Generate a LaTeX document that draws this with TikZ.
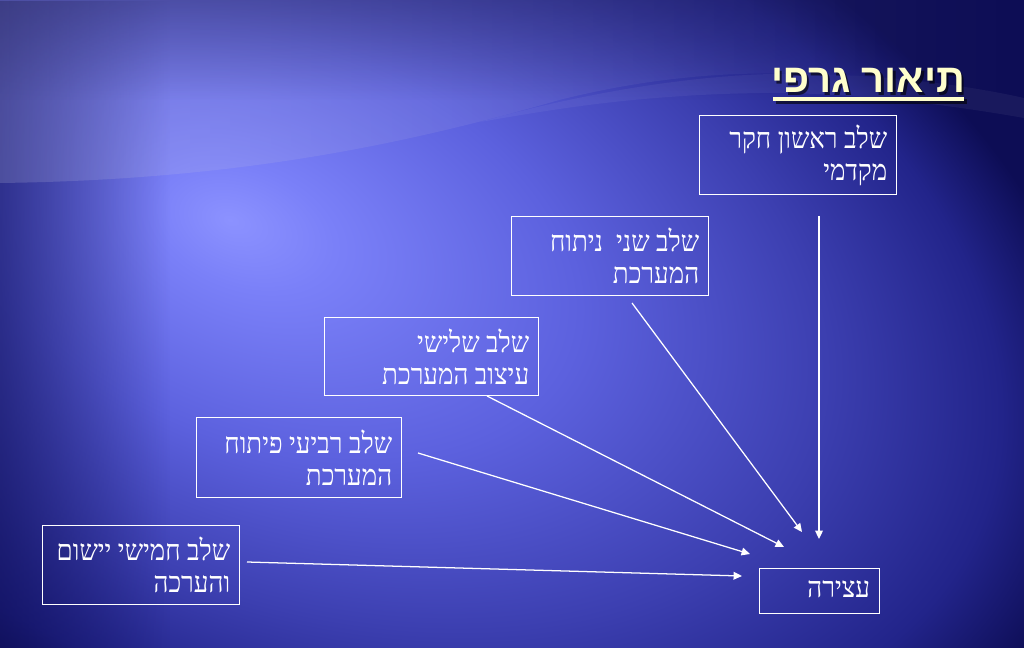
\documentclass[tikz,border=0pt]{standalone}
\usepackage{fontspec}
\usetikzlibrary{arrows.meta,fadings}
\TeXXeTstate=1
\newfontfamily\hebfont[Script=Hebrew,FakeStretch=0.9]{Liberation Serif}
\newfontfamily\hebtitle[Script=Hebrew]{Liberation Sans}
\definecolor{navy}{HTML}{0D0D55}
\definecolor{gA}{HTML}{8C92FF}
\definecolor{gB}{HTML}{7A80F8}
\definecolor{gC}{HTML}{5C61DE}
\definecolor{gD}{HTML}{3C3FB0}
\definecolor{gE}{HTML}{22248A}
\definecolor{cream}{HTML}{FFFFCC}
\definecolor{lilac}{HTML}{C4C4E0}
\pgfdeclareradialshading{glow}{\pgfpoint{-7.45bp}{2.05bp}}{color(0bp)=(gA); color(3bp)=(gB); color(10bp)=(gC); color(17bp)=(gD); color(22bp)=(gE); color(25bp)=(navy); color(50bp)=(navy)}
\tikzset{
  stagebox/.style={draw=white, line width=1pt, inner sep=0pt, anchor=north west},
  stagetext/.style={text=white, font=\hebfont\fontsize{20.5}{22.8}\selectfont,
    align=right, inner sep=0pt, anchor=east},
  conn/.style={draw=white, line width=0.9pt, -{Triangle[length=6pt,width=5.5pt]}},
  titletext/.style={anchor=base east, font=\hebtitle\bfseries\fontsize{28.5}{31}\selectfont}
}
\begin{document}
\begin{tikzpicture}[x=0.025cm, y=-0.025cm]
\useasboundingbox (0,0) rectangle (1024,648);
% background
\begin{scope}
  \clip (0,0) rectangle (1024,648);
  \fill[navy] (0,0) rectangle (1024,648);
  \begin{scope}[transform canvas={shift={(440,340)}, rotate=-20}]
    \shade[shading=glow] (0,0) ellipse [x radius=20cm, y radius=12.5cm];
  \end{scope}
  % darker left edge and top
  \fill[navy, opacity=0.6, path fading=east] (0,0) rectangle (170,648);
  \fill[navy, opacity=0.45, path fading=south] (0,0) rectangle (1024,100);
  % wave: upper lighter (greyer) region
  \fill[lilac, opacity=0.2, path fading=east]
    (0,0) -- (0,183) .. controls (250,180) and (420,140) .. (560,100)
    .. controls (660,75) and (740,72) .. (800,74)
    .. controls (900,75) and (980,88) .. (1024,98) -- (1024,0) -- cycle;
  % wave: second band on the right
  \fill[white, opacity=0.05]
    (480,122) .. controls (600,88) and (720,72) .. (800,74)
    .. controls (900,75) and (980,88) .. (1024,98) -- (1024,118)
    .. controls (950,105) and (850,92) .. (760,93)
    .. controls (640,95) and (560,108) .. (480,122) -- cycle;
\end{scope}
% title
\node[titletext, text=black, opacity=0.6] (titleshadow) at (972.5,95.5) {\beginR תיאור גרפי\endR};
\node[titletext, text=cream] (title) at (970,93) {\beginR תיאור גרפי\endR};
\fill[black, opacity=0.6] (775.5,99.5) rectangle (966.5,104);
\fill[cream] (773,97) rectangle (964,101.5);
% boxes
\node[stagebox, minimum width=4.925cm, minimum height=1.975cm] (b1) at (699,115) {};
\node[stagetext] (b1t) at ([xshift=-0.25cm]b1.east)
  {\beginR שלב ראשון חקר\endR\\\beginR מקדמי\endR};
\node[stagebox, minimum width=4.925cm, minimum height=1.975cm] (b2) at (511,216) {};
\node[stagetext] (b2t) at ([xshift=-0.25cm]b2.east)
  {\beginR שלב שני ~ניתוח\endR\\\beginR המערכת\endR};
\node[stagebox, minimum width=5.35cm, minimum height=1.95cm] (b3) at (324,317) {};
\node[stagetext] (b3t) at ([xshift=-0.25cm]b3.east)
  {\beginR שלב שלישי\endR\\\beginR עיצוב המערכת\endR};
\node[stagebox, minimum width=5.125cm, minimum height=2cm] (b4) at (196,417) {};
\node[stagetext] (b4t) at ([xshift=-0.25cm]b4.east)
  {\beginR שלב רביעי פיתוח\endR\\\beginR המערכת\endR};
\node[stagebox, minimum width=4.925cm, minimum height=1.975cm] (b5) at (42,525) {};
\node[stagetext] (b5t) at ([xshift=-0.25cm]b5.east)
  {\beginR שלב חמישי יישום\endR\\\beginR והערכה\endR};
\node[stagebox, minimum width=3cm, minimum height=1.125cm] (stop) at (759,568) {};
\node[stagetext] (stopt) at ([xshift=-0.25cm, yshift=0.05cm]stop.east) {\beginR עצירה\endR};
% connector ends
\coordinate (s1) at (819,216); \coordinate (t1) at (819,539);
\coordinate (s2) at (632,303); \coordinate (t2) at (802,532);
\coordinate (s3) at (487,396); \coordinate (t3) at (784,547);
\coordinate (s4) at (418,453); \coordinate (t4) at (750,554);
\coordinate (s5) at (247,562); \coordinate (t5) at (742,576);
\draw[conn] (s1) -- (t1);
\draw[conn] (s2) -- (t2);
\draw[conn] (s3) -- (t3);
\draw[conn] (s4) -- (t4);
\draw[conn] (s5) -- (t5);
\end{tikzpicture}
\end{document}
